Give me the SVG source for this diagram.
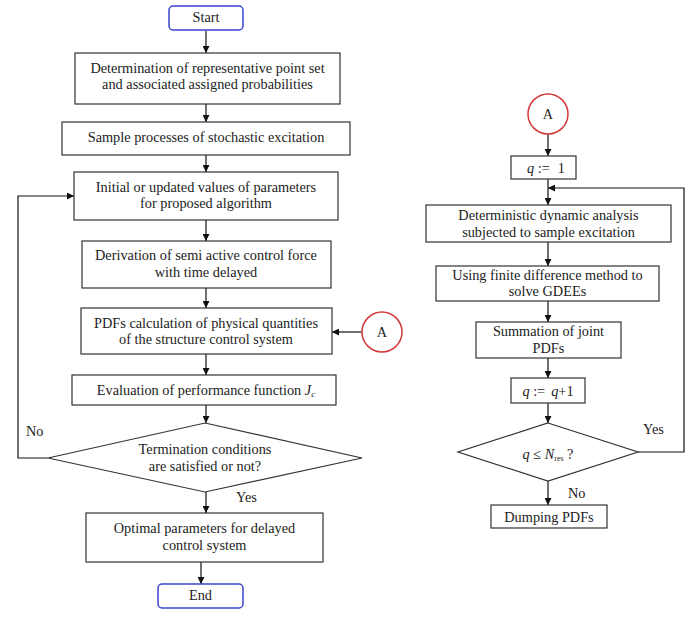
<svg xmlns="http://www.w3.org/2000/svg" width="700" height="617" viewBox="0 0 700 617">
<defs>
<marker id="ah" viewBox="0 0 10 10" refX="10" refY="5" markerWidth="7" markerHeight="7" markerUnits="userSpaceOnUse" orient="auto">
<path d="M0,0 L10,5 L0,10 z" fill="#111"/>
</marker>
</defs>
<style>
.box{fill:#fff;stroke:#333;stroke-width:1.2}
.term{fill:#fff;stroke:#3a44d0;stroke-width:1.5}
.circ{fill:#fff;stroke:#d03a3a;stroke-width:1.5}
text{font-family:'Liberation Serif','Times New Roman','DejaVu Serif',serif;font-size:14.3px;fill:#222}
.t{text-anchor:middle}
.c{fill:none;stroke:#111;stroke-width:1.2}
.ca{fill:none;stroke:#111;stroke-width:1.2;marker-end:url(#ah)}
</style>
<rect width="700" height="617" fill="#fff"/>
<g id="connectors">
<line class="ca" x1="206" y1="31" x2="206" y2="53"/>
<line class="ca" x1="206" y1="104" x2="206" y2="122"/>
<line class="ca" x1="206" y1="155" x2="206" y2="172"/>
<line class="ca" x1="206" y1="220" x2="206" y2="241"/>
<line class="ca" x1="206" y1="288" x2="206" y2="308"/>
<line class="ca" x1="206" y1="354" x2="206" y2="375"/>
<line class="ca" x1="206" y1="405" x2="206" y2="423"/>
<line class="ca" x1="206" y1="492" x2="206" y2="513"/>
<line class="ca" x1="201" y1="562" x2="201" y2="584"/>
<line class="ca" x1="362" y1="332" x2="332" y2="332"/>
<polyline class="ca" points="48,458 18,458 18,196 74,196"/>
<line class="ca" x1="548" y1="134" x2="548" y2="156"/>
<line class="ca" x1="548" y1="179" x2="548" y2="205"/>
<line class="ca" x1="548" y1="242" x2="548" y2="266"/>
<line class="ca" x1="548" y1="301" x2="548" y2="322"/>
<line class="ca" x1="548" y1="358" x2="548" y2="378"/>
<line class="ca" x1="548" y1="403" x2="548" y2="423"/>
<line class="ca" x1="548" y1="481" x2="548" y2="505"/>
<polyline class="ca" points="638,452 684,452 684,188 548,188"/>
<text x="26" y="435.5">No</text>
<text x="236" y="501.5">Yes</text>
<text x="643" y="434">Yes</text>
<text x="568" y="497.5">No</text>
</g>
<g id="start">
<rect class="term" x="169" y="6" width="74" height="24" rx="4"/>
<text class="t" x="206" y="21.5">Start</text>
</g>
<g id="box1">
<rect class="box" x="75" y="53" width="265" height="51"/>
<text class="t" x="207.5" y="72.5">Determination of representative point set</text>
<text class="t" x="207.5" y="89">and associated assigned probabilities</text>
</g>
<g id="box2">
<rect class="box" x="62" y="122" width="288" height="33"/>
<text class="t" x="206" y="141.5">Sample processes of stochastic excitation</text>
</g>
<g id="box3">
<rect class="box" x="74" y="172" width="264" height="48"/>
<text class="t" x="206" y="191.5">Initial or updated values of parameters</text>
<text class="t" x="206" y="208">for proposed algorithm</text>
</g>
<g id="box4">
<rect class="box" x="82" y="241" width="249" height="47"/>
<text class="t" x="206" y="260">Derivation of semi active control force</text>
<text class="t" x="206" y="277">with time delayed</text>
</g>
<g id="box5">
<rect class="box" x="81" y="308" width="251" height="46"/>
<text class="t" x="206" y="327.5">PDFs calculation of physical quantities</text>
<text class="t" x="206" y="344">of the structure control system</text>
</g>
<g id="circleA1">
<circle class="circ" cx="382" cy="332" r="20"/>
<text class="t" x="382" y="337">A</text>
</g>
<g id="box6">
<rect class="box" x="72" y="375" width="264" height="30"/>
<text class="t" x="206" y="395">Evaluation of performance function <tspan font-style="italic">J</tspan><tspan font-style="italic" font-size="9" dy="2">c</tspan></text>
</g>
<g id="decision1">
<polygon class="box" points="205,423 362,458 205,492 48,458"/>
<text class="t" x="205" y="454">Termination conditions</text>
<text class="t" x="205" y="471">are satisfied or not?</text>
</g>
<g id="box7">
<rect class="box" x="86" y="513" width="237" height="49"/>
<text class="t" x="204.5" y="532.5">Optimal parameters for delayed</text>
<text class="t" x="204.5" y="549.5">control system</text>
</g>
<g id="end">
<rect class="term" x="158" y="584" width="85" height="24" rx="4"/>
<text class="t" x="200.5" y="599.5">End</text>
</g>
<g id="circleA2">
<circle class="circ" cx="548" cy="114" r="20"/>
<text class="t" x="548" y="119">A</text>
</g>
<g id="q1">
<rect class="box" x="511" y="156" width="65" height="23"/>
<text class="t" x="546" y="172.5"><tspan font-style="italic">q</tspan> :=<tspan dx="8">1</tspan></text>
</g>
<g id="boxD">
<rect class="box" x="426" y="205" width="245" height="37"/>
<text class="t" x="548.5" y="220">Deterministic dynamic analysis</text>
<text class="t" x="548.5" y="236.5">subjected to sample excitation</text>
</g>
<g id="boxU">
<rect class="box" x="436" y="266" width="223" height="35"/>
<text class="t" x="547.5" y="279.5">Using finite difference method to</text>
<text class="t" x="547.5" y="295.5">solve GDEEs</text>
</g>
<g id="boxS">
<rect class="box" x="476" y="322" width="145" height="36"/>
<text class="t" x="548.5" y="336">Summation of joint</text>
<text class="t" x="548.5" y="352.5">PDFs</text>
</g>
<g id="qinc">
<rect class="box" x="511" y="378" width="74" height="25"/>
<text class="t" x="548" y="395.5"><tspan font-style="italic">q</tspan> :=<tspan dx="6" font-style="italic">q</tspan>+1</text>
</g>
<g id="decision2">
<polygon class="box" points="548,423 638,452 548,481 458,452"/>
<text class="t" x="548" y="458.5"><tspan font-style="italic">q</tspan> ≤ <tspan font-style="italic">N</tspan><tspan font-size="8" dy="2">res</tspan><tspan dy="-2"> ?</tspan></text>
</g>
<g id="dump">
<rect class="box" x="491" y="505" width="116" height="23"/>
<text class="t" x="549" y="521.5">Dumping PDFs</text>
</g>
</svg>
